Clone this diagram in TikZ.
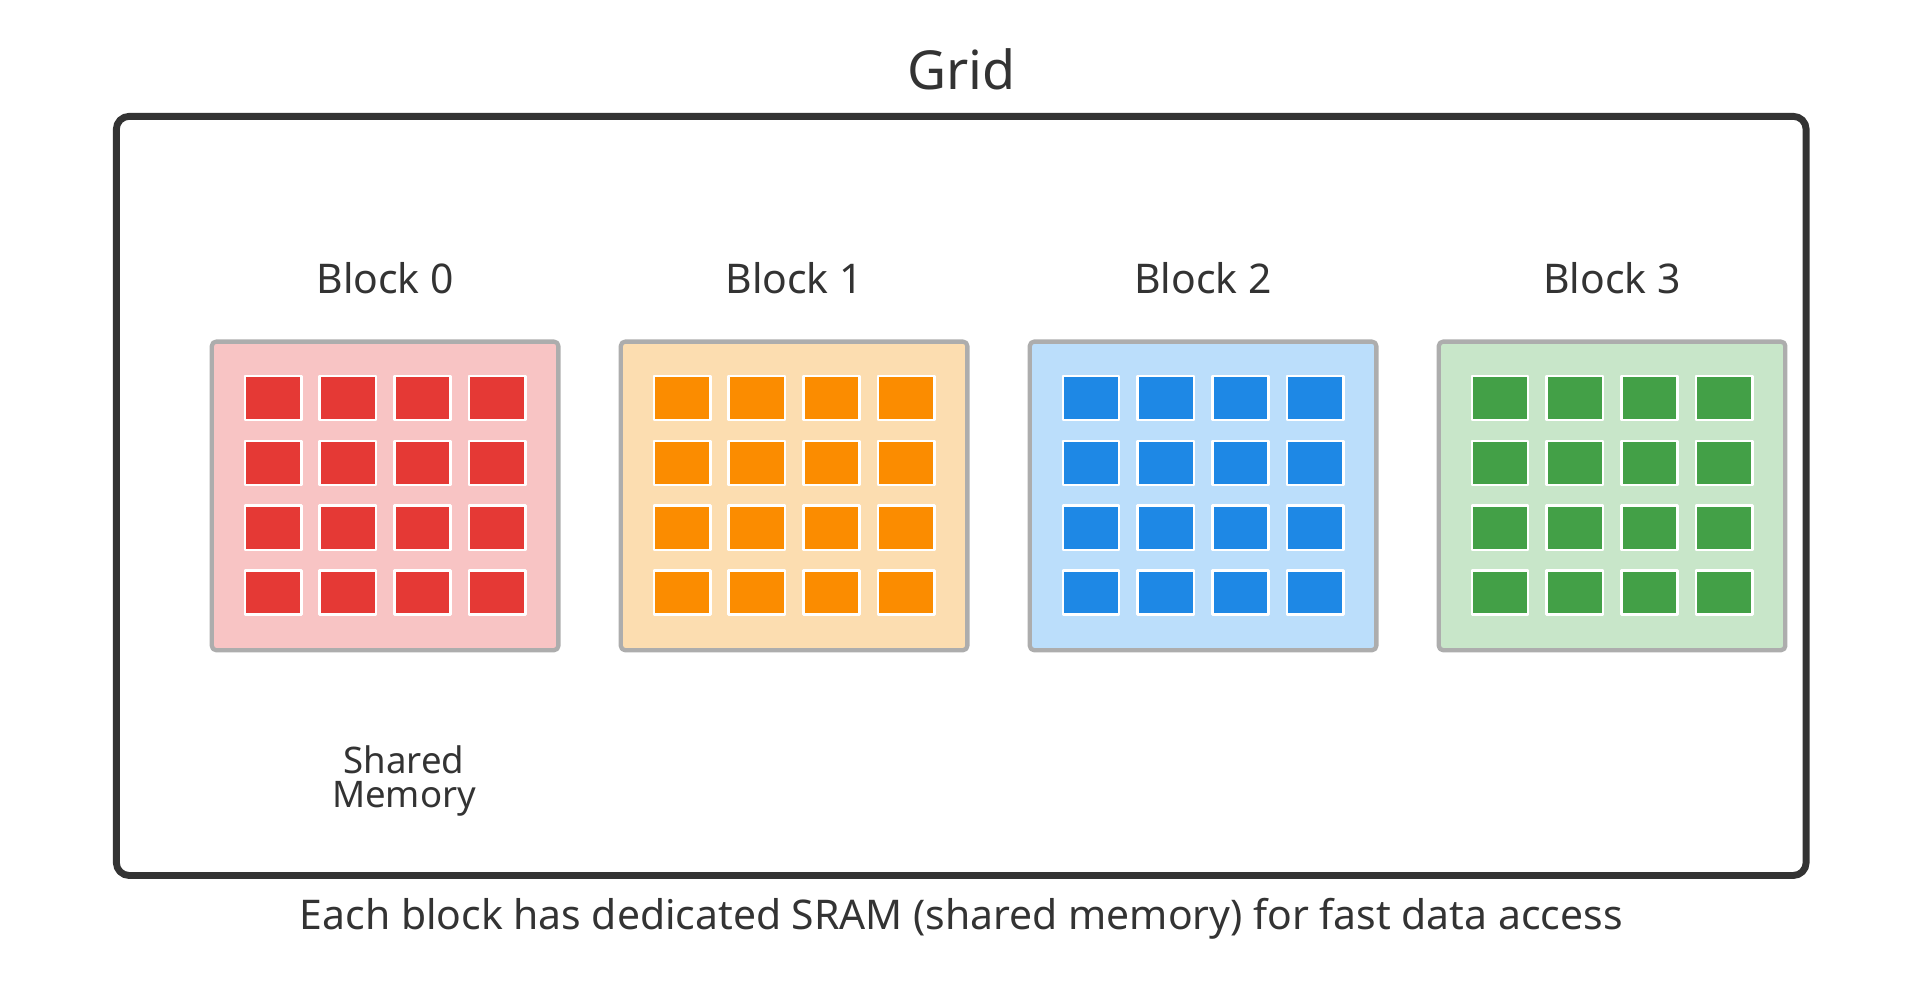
\documentclass[tikz,border=0pt]{standalone}
\usepackage{fontspec}
\setmainfont{Noto Sans}
\usetikzlibrary{positioning}
\definecolor{gridline}{HTML}{333333}
\definecolor{cellA}{HTML}{E53935}\definecolor{backA}{HTML}{F8C4C4}
\definecolor{cellB}{HTML}{FB8C00}\definecolor{backB}{HTML}{FCDDB0}
\definecolor{cellC}{HTML}{1E88E5}\definecolor{backC}{HTML}{BBDEFB}
\definecolor{cellD}{HTML}{43A047}\definecolor{backD}{HTML}{C8E6C9}
\tikzset{
  gridbox/.style={draw=gridline, line width=1.6pt, rounded corners=3pt},
  blockbox/.style={draw=black!32, line width=1pt, rounded corners=1pt,
    minimum width=2.83cm, minimum height=2.52cm, inner sep=0pt},
  cell/.style={draw=white, line width=0.6pt, minimum width=0.46cm,
    minimum height=0.36cm, inner sep=0pt},
  label/.style={font=\fontsize{9.5}{11}\selectfont, text=gridline}
}
\begin{document}
\begin{tikzpicture}[line join = round, line cap = round]
  \useasboundingbox (0,0) rectangle (15.68,-8.09);

  % outer grid
  \draw[gridbox] (0.95,-0.95) rectangle (14.75,-7.15);
  \node[label, font=\fontsize{12.5}{14}\selectfont] (gridlabel) at (7.85,-0.57) {Grid};

  % blocks
  \foreach \i/\c in {0/A,1/B,2/C,3/D}{
    \node[blockbox, fill=back\c] (block\i) at ({3.145+3.34*\i},-4.05) {};
    \node[label, above=0.25cm of block\i] (blocklabel\i) {Block \i};
    \foreach \r in {0,...,3}{
      \foreach \s in {0,...,3}{
        \node[cell, fill=cell\c] (cell\i\r\s) at ({2.23+3.34*\i+0.61*\s},{-3.25-0.53*\r}) {};
      }
    }
  }

  \node[label, font=\fontsize{8.5}{10}\selectfont, align=center] (shared) at (3.30,-6.38) {Shared\\[-2pt]Memory};
  \node[label] (caption) at (7.85,-7.50) {Each block has dedicated SRAM (shared memory) for fast data access};
\end{tikzpicture}
\end{document}
